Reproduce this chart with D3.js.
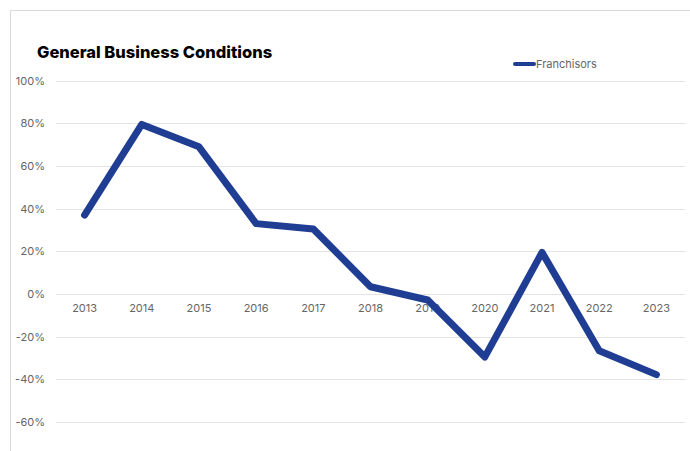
<!DOCTYPE html>
<html>
<head>
<meta charset="utf-8">
<script src="https://cdn.jsdelivr.net/npm/d3@7"></script>
<style>
  body { margin: 0; background: #fff; }
  svg { display: block; }
</style>
</head>
<body>
<div id="chart"></div>
<script>
    // data
    let years = ["2013", "2014", "2015", "2016", "2017", "2018", "2019", "2020", "2021", "2022", "2023"];
    let franchisors = [37, 79.5, 69, 33, 30.5, 3.4, -2.8, -29.5, 19.5, -26.6, -37.8];
    let yTicks = [-60, -40, -20, 0, 20, 40, 60, 80, 100];

    let width = 690;
    let height = 451;

    let svg = d3.select("#chart")
                .append("svg")
                .attr("width", width)
                .attr("height", height);

    // outer frame
    svg.append("rect")
        .attr("x", 10.5)
        .attr("y", 10.5)
        .attr("width", width + 10)
        .attr("height", height + 10)
        .attr("fill", "none")
        .attr("stroke", "#d9d9d9");

    let xScale = d3.scaleBand()
                    .domain(years)
                    .range([56, 685]);

    let yScale = d3.scaleLinear()
                    .domain([-60, 100])
                    .range([422, 80.7]);

    // gridlines
    svg.append("g")
        .selectAll("line")
        .data(yTicks)
        .enter()
        .append("line")
        .attr("x1", 56)
        .attr("x2", 685)
        .attr("y1", d => Math.round(yScale(d)) + 0.5)
        .attr("y2", d => Math.round(yScale(d)) + 0.5)
        .attr("stroke", "#e3e3e3")
        .attr("stroke-width", 1);

    // y labels
    svg.append("g")
        .selectAll("text")
        .data(yTicks)
        .enter()
        .append("text")
        .attr("x", 45)
        .attr("y", d => yScale(d) + 4)
        .attr("text-anchor", "end")
        .attr("font-family", "Inter, 'Noto Sans', sans-serif")
        .attr("font-size", 11)
        .attr("fill", "#666")
        .text(d => d + "%");

    // x labels
    svg.append("g")
        .selectAll("text")
        .data(years)
        .enter()
        .append("text")
        .attr("x", d => xScale(d) + xScale.bandwidth() / 2)
        .attr("y", yScale(0) + 18)
        .attr("text-anchor", "middle")
        .attr("font-family", "Inter, 'Noto Sans', sans-serif")
        .attr("font-size", 11)
        .attr("fill", "#666")
        .text(d => d);

    // line
    let line = d3.line()
                .x((d, i) => xScale(years[i]) + xScale.bandwidth() / 2)
                .y(d => yScale(d));

    svg.append("path")
        .datum(franchisors)
        .attr("d", line)
        .attr("fill", "none")
        .attr("stroke", "#1f3d92")
        .attr("stroke-width", 7)
        .attr("stroke-linejoin", "round")
        .attr("stroke-linecap", "round");

    // title
    svg.append("text")
        .attr("x", 37)
        .attr("y", 58)
        .attr("font-family", "Inter, 'Noto Sans', sans-serif")
        .attr("font-weight", 800)
        .attr("font-size", 16.5)
        .attr("fill", "#000")
        .text("General Business Conditions");

    // legend
    svg.append("line")
        .attr("x1", 515)
        .attr("x2", 534)
        .attr("y1", 64)
        .attr("y2", 64)
        .attr("stroke", "#1f3d92")
        .attr("stroke-width", 4)
        .attr("stroke-linecap", "round");

    svg.append("text")
        .attr("x", 536)
        .attr("y", 68)
        .attr("font-family", "Inter, 'Noto Sans', sans-serif")
        .attr("font-size", 11)
        .attr("fill", "#666")
        .text("Franchisors");
</script>
</body>
</html>
